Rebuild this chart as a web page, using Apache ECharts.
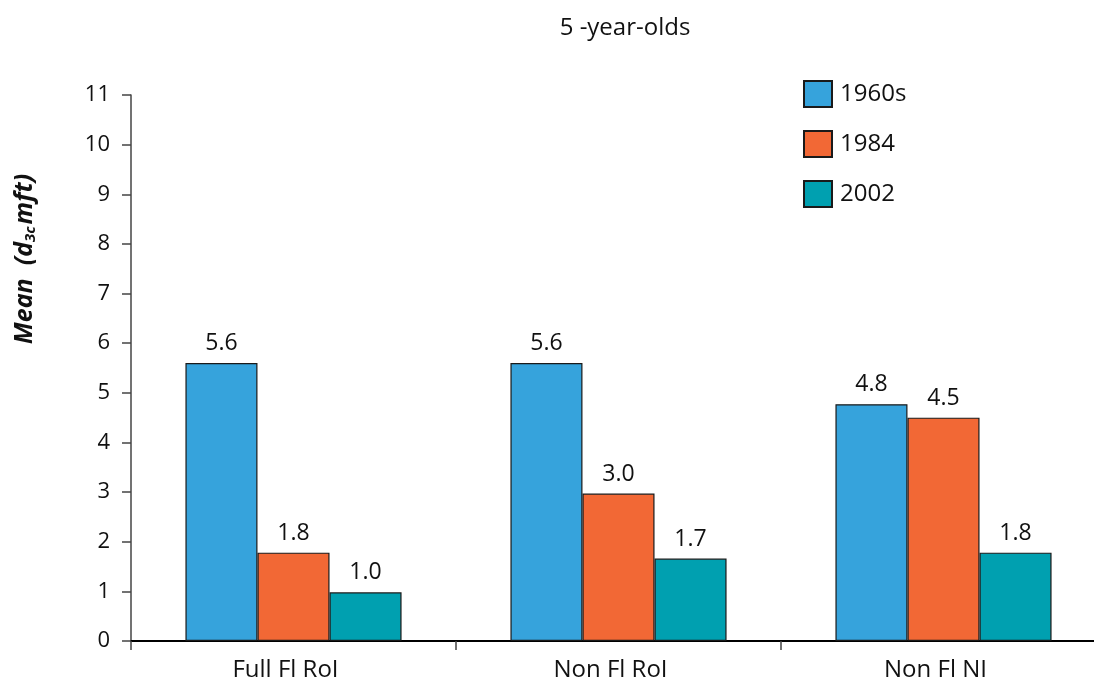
<!DOCTYPE html>
<html>
<head>
<meta charset="utf-8">
<script src="https://cdn.jsdelivr.net/npm/echarts@6/dist/echarts.min.js"></script>
<style>html,body{margin:0;padding:0;background:#fff}#c{width:1094px;height:688px}</style>
</head>
<body>
<div id="c"></div>
<script>
const categories = ['Full Fl RoI', 'Non Fl RoI', 'Non Fl NI'];
const seriesNames = ['1960s', '1984', '2002'];
const values1960s = [5.6, 5.6, 4.77];
const values1984 = [1.78, 2.97, 4.5];
const values2002 = [0.98, 1.66, 1.78];
const yTicks = [0, 1, 2, 3, 4, 5, 6, 7, 8, 9, 10, 11];
const colors = ['#36a3dc', '#f26835', '#00a0b0'];
const FONT = 'Open Sans';

const chart = echarts.init(document.getElementById('c'));
const allValues = [values1960s, values1984, values2002];
chart.setOption({
  animation: false,
  title: {
    text: '5 -year-olds', left: 620, top: 11, textAlign: 'center',
    textStyle: { fontFamily: FONT, fontSize: 24, fontWeight: 'normal', color: '#111' }
  },
  legend: {
    orient: 'vertical', left: 803, top: 80, padding: 0, itemWidth: 28, itemHeight: 26, itemGap: 22,
    icon: 'rect',
    textStyle: { fontFamily: FONT, fontSize: 24, color: '#111', padding: [0, 0, 0, 3] },
    data: seriesNames
  },
  grid: { left: 131, right: -12, top: 95, bottom: 47, containLabel: false, outerBoundsMode: 'none' },
  xAxis: {
    type: 'category', data: categories,
    axisLine: { lineStyle: { color: '#000', width: 2 } },
    axisTick: { show: true, length: 9, lineStyle: { color: '#444', width: 1.5 } },
    axisLabel: { fontFamily: FONT, fontSize: 24, color: '#111', margin: 17, padding: [0, 16, 0, 0] }
  },
  yAxis: {
    type: 'value', min: yTicks[0], max: yTicks[yTicks.length - 1], interval: 1,
    axisLine: { show: true, lineStyle: { color: '#444', width: 1.5 } },
    axisTick: { show: true, length: 9, lineStyle: { color: '#444', width: 1.5 } },
    splitLine: { show: false },
    axisLabel: { fontFamily: FONT, fontSize: 22, color: '#111', margin: 21 },
    name: '{b|Mean  (d}{s|3c}{b|mft)}',
    nameLocation: 'middle', nameGap: 93, nameRotate: 90,
    nameTextStyle: {
      padding: [0, 0, 0, 218],
      rich: {
        b: { fontFamily: FONT, fontSize: 25, fontWeight: 'bold', fontStyle: 'italic', color: '#111' },
        s: { fontFamily: FONT, fontSize: 15, fontWeight: 'bold', fontStyle: 'italic', color: '#111', verticalAlign: 'bottom', padding: [12, 2, 0, 0] }
      }
    }
  },
  series: seriesNames.map((n, i) => ({
    name: n, type: 'bar', data: allValues[i],
    barCategoryGap: '33.5%', barGap: '0%',
    itemStyle: { color: colors[i], borderColor: '#1a1a1a', borderWidth: 1.2 },
    label: {
      show: true, position: 'top', distance: 8,
      fontFamily: FONT, fontSize: 23, color: '#111',
      formatter: p => p.value.toFixed(1)
    }
  }))
});
</script>
</body>
</html>
